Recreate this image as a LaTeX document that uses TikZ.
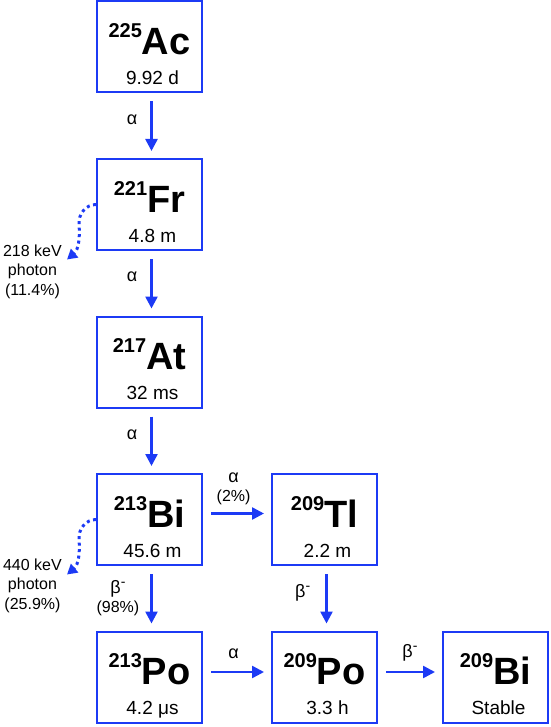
\documentclass[tikz,border=0pt]{standalone}
\usepackage{fontspec}
\setmainfont{Liberation Sans}
\usepackage{tikz}
\usetikzlibrary{positioning,arrows.meta}

\definecolor{nucblue}{RGB}{28,58,245}
\newcommand{\iso}[2]{\raisebox{17pt}{\fontsize{20}{20}\selectfont\bfseries #1}{\fontsize{38}{38}\selectfont\bfseries #2}}
\newcommand{\bminus}{β\raisebox{7pt}{\fontsize{14}{14}\selectfont -}}

\begin{document}
\begin{tikzpicture}[x=1pt, y=1pt,
    nuc/.style={draw=nucblue, line width=2pt, minimum width=105pt, minimum height=91pt, inner sep=0pt, text height=30pt, text depth=15pt},
    hl/.style={anchor=base, inner sep=0pt, font=\fontsize{19}{19}\selectfont},
    lbl/.style={inner sep=0pt, align=center, font=\fontsize{16}{19.5}\selectfont},
    big/.style={font=\fontsize{18}{20}\selectfont},
    arr/.style={draw=nucblue, line width=2.5pt, -{Triangle[length=12pt,width=12pt]}, shorten <=8pt, shorten >=7pt},
    gam/.style={draw=nucblue, line width=3pt, dash pattern=on 3pt off 3.5pt, -{Triangle[length=10pt,width=11pt]}},
    node distance=64.5pt and 68pt]
    \useasboundingbox (0,0) rectangle (550,-727);
    % Nodes
    \node[nuc] (Ac) at (149.5,-47) {\iso{225}{Ac}};
    \node[nuc, below=of Ac] (Fr) {\iso{221}{Fr}};
    \node[nuc, below=of Fr] (At) {\iso{217}{At}};
    \node[nuc, below=of At] (Bi) {\iso{213}{Bi}};
    \node[nuc, below=of Bi] (Po) {\iso{213}{Po}};
    \node[nuc, right=of Bi] (Tl) {\iso{209}{Tl}};
    \node[nuc, below=of Tl] (PoB) {\iso{209}{Po}};
    \node[nuc, right=64pt of PoB] (BiB) {\iso{209}{Bi}};
    % half-lives
    \node[hl] (Ac-t) at ([xshift=3pt,yshift=9pt]Ac.south) {9.92 d};
    \node[hl] (Fr-t) at ([xshift=3pt,yshift=9pt]Fr.south) {4.8 m};
    \node[hl] (At-t) at ([xshift=3pt,yshift=9pt]At.south) {32 ms};
    \node[hl] (Bi-t) at ([xshift=3pt,yshift=9pt]Bi.south) {45.6 m};
    \node[hl] (Po-t) at ([xshift=3pt,yshift=9pt]Po.south) {4.2 μs};
    \node[hl] (Tl-t) at ([xshift=3pt,yshift=9pt]Tl.south) {2.2 m};
    \node[hl] (PoB-t) at ([xshift=3pt,yshift=9pt]PoB.south) {3.3 h};
    \node[hl] (BiB-t) at ([xshift=3pt,yshift=9pt]BiB.south) {Stable};
    % Decays
    \draw[arr] ([xshift=2pt]Ac.south) -- node[lbl, big, left=13pt, pos=.4] (Ac-a) {α} ([xshift=2pt]Fr.north);
    \draw[arr] ([xshift=2pt]Fr.south) -- node[lbl, big, left=13pt, pos=.4] (Fr-a) {α} ([xshift=2pt]At.north);
    \draw[arr] ([xshift=2pt]At.south) -- node[lbl, big, left=13pt, pos=.4] (At-a) {α} ([xshift=2pt]Bi.north);
    \draw[arr] ([xshift=2pt]Bi.south) -- node[lbl, left=11pt, pos=.5] (Bi-b) {{\fontsize{18}{20}\selectfont\bminus}\\(98\%)} ([xshift=2pt]Po.north);
    \draw[arr] ([yshift=6pt]Bi.east) -- node[lbl, above=7pt, pos=.45] (Bi-a) {{\fontsize{18}{20}\selectfont α}\\(2\%)} ([yshift=6pt]Tl.west);
    \draw[arr] ([xshift=2pt]Tl.south) -- node[lbl, big, left=15pt, pos=.42] (Tl-b) {\bminus} ([xshift=2pt]PoB.north);
    \draw[arr] ([yshift=5pt]Po.east) -- node[lbl, big, above=12pt, pos=.45] (Po-a) {α} ([yshift=5pt]PoB.west);
    \draw[arr] ([yshift=5pt]PoB.east) -- node[lbl, big, above=10pt, pos=.5] (PoB-b) {\bminus} ([yshift=5pt]BiB.west);
    % Photons
    \coordinate (Fr-m) at ([xshift=-17pt,yshift=-20pt]Fr.west);
    \coordinate (Fr-g) at ([xshift=-29pt,yshift=-55pt]Fr.west);
    \draw[gam] (Fr.west) to[out=180,in=95] (Fr-m) to[out=-85,in=40] (Fr-g);
    \node[lbl, anchor=north east] (Fr-p) at ([xshift=-5pt,yshift=15pt]Fr-g) {218 keV\\photon\\(11.4\%)};
    \coordinate (Bi-m) at ([xshift=-17pt,yshift=-20pt]Bi.west);
    \coordinate (Bi-g) at ([xshift=-29pt,yshift=-55pt]Bi.west);
    \draw[gam] (Bi.west) to[out=180,in=95] (Bi-m) to[out=-85,in=40] (Bi-g);
    \node[lbl, anchor=north east] (Bi-p) at ([xshift=-5pt,yshift=16pt]Bi-g) {440 keV\\photon\\(25.9\%)};
\end{tikzpicture}
\end{document}
